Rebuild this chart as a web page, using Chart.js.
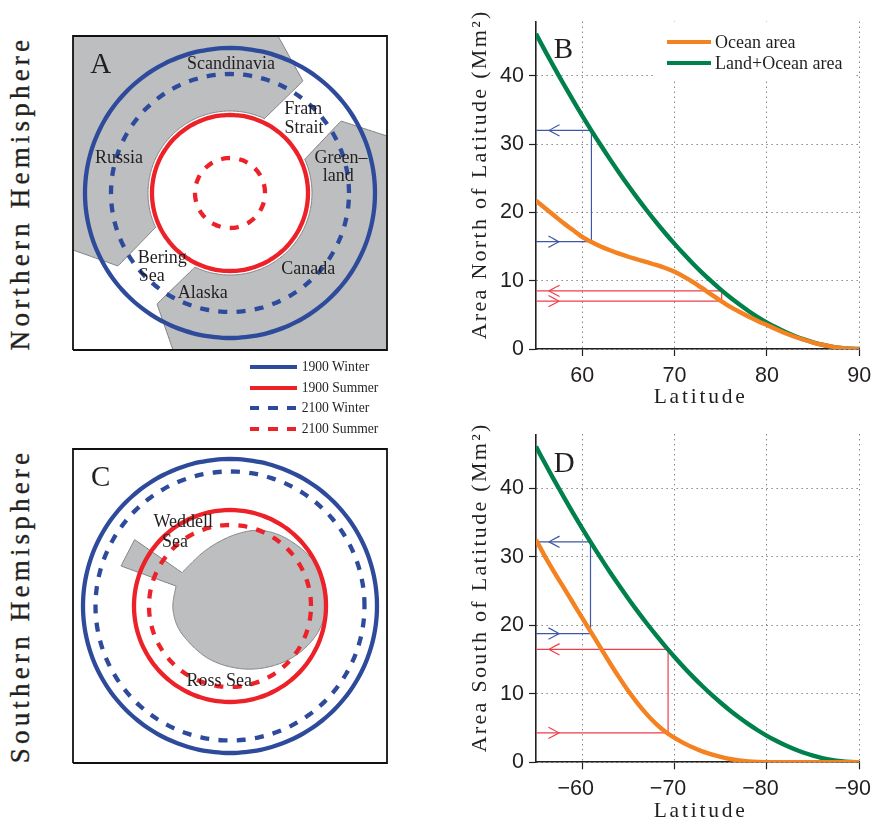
<!DOCTYPE html>
<html><head><meta charset="utf-8">
<style>
html,body{margin:0;padding:0;background:#fff;width:872px;height:818px;overflow:hidden}
canvas{position:absolute}
.t{position:absolute;transform:translate(-50%,-50%);white-space:nowrap;font-family:"Liberation Serif",serif;color:#231f20;line-height:1}
.map{font-size:18px}
.big{font-size:29px}
.hemi{font-size:27px;letter-spacing:4.2px;font-weight:normal;-webkit-text-stroke:0.35px #231f20;transform:translate(-50%,-50%) rotate(-90deg)}
.leg{font-size:13.6px;transform:translate(0,-50%)}
.sw{position:absolute;width:47px;height:4px}
#mask{position:absolute;left:655px;top:22px;width:201px;height:57px;background:#fff}
</style>
<script src="https://cdn.jsdelivr.net/npm/chart.js@4"></script>
</head><body>
<canvas id="a"></canvas><canvas id="b"></canvas><canvas id="c"></canvas><canvas id="d"></canvas>
<div id="mask"></div>
<script>
// ---- Data ----
const latitudes = [55,56,57,58,59,60,61,62,63,64,65,66,67,68,69,70,71,72,73,74,75,76,77,78,79,80,81,82,83,84,85,86,87,88,89,90];
const landOceanArea = [46.12,43.59,41.14,38.75,36.42,34.16,31.97,29.85,27.79,25.81,23.89,22.04,20.27,18.57,16.94,15.38,13.89,12.48,11.14,9.88,8.69,7.57,6.54,5.57,4.68,3.87,3.14,2.48,1.90,1.40,0.97,0.62,0.35,0.16,0.04,0];
const oceanAreaNorth = [21.7,20.6,19.5,18.4,17.4,16.4,15.65,15.0,14.45,13.95,13.5,13.1,12.7,12.3,11.85,11.3,10.6,9.8,8.9,7.95,7.05,6.2,5.45,4.75,4.1,3.5,2.9,2.3,1.8,1.35,0.95,0.62,0.35,0.16,0.04,0];
const oceanAreaSouth = [32.5,30.0,27.7,25.5,23.3,21.1,18.9,16.7,14.5,12.4,10.4,8.6,7.0,5.6,4.45,3.55,2.8,2.15,1.6,1.15,0.78,0.48,0.27,0.13,0.05,0.02,0,0,0,0,0,0,0,0,0,0];
// guide: [latitude, upper area, lower area]
const bWinterGuide = [61.0,32.0,15.7];
const bSummerGuide = [75.1,8.5,7.0];
const dWinterGuide = [60.9,32.2,18.8];
const dSummerGuide = [69.3,16.5,4.3];
const areaTicks = [0,10,20,30,40];
const northTicks = [60,70,80,90];
const southTicks = [-60,-70,-80,-90];
// map rings: radius in map units
const mapAWinter1900 = 145, mapAWinter2100 = 119, mapASummer1900 = 78, mapASummer2100 = 35, mapACoast = 82;
const mapCWinter1900 = 147, mapCWinter2100 = 134.5, mapCSummer1900 = 96, mapCSummer2100 = 81;
const mapExtent = 157;
// land outlines, map units about the pole
const eurasiaOpen = [[-157,157],[48,157],[73,112],[34,74]];
const eurasiaClose = [[-74,-34],[-112,-73],[-157,-57]];
const americaOpen = [[157,57],[111,72],[75,34]];
const americaClose = [[-36,-75],[-73,-111],[-57,-157],[157,-157]];
const antarcticaBody = [[-48,33.4],[-24,56],[4,71],[32,75.5],[60,65.5],[86.6,41],[97,6.3],[86.6,-28.5],[58.3,-53.9],[19.5,-63.2],[-19.3,-53.9],[-47.6,-28.5],[-57,-4],[-54,20]];
const weddellWedge = [[-109,40],[-95.4,66.4]];
const eurasiaArc = [65,204.8], americaArc = [24.4,-115.4];

const BLUE='#2e4a9b', RED='#ed2128', ORANGE='#f58220', GREEN='#00804a', LAND='#bcbec0', EDGE='#808285', INK='#231f20';
const DASH=[9,9.3];
const SMOOTH=0.3, STRAIGHT=0.0001;

function arc(r,a0,a1){const p=[],n=Math.ceil(Math.abs(a1-a0)/3);for(let i=0;i<=n;i++){const t=(a0+(a1-a0)*i/n)*Math.PI/180;p.push([r*Math.cos(t),r*Math.sin(t)]);}return p;}
function spline(k){const o=[];for(let i=0;i<k.length-1;i++){const p0=k[Math.max(i-1,0)],p1=k[i],p2=k[i+1],p3=k[Math.min(i+2,k.length-1)];for(let j=0;j<8;j++){const t=j/8,f=d=>0.5*(2*p1[d]+(p2[d]-p0[d])*t+(2*p0[d]-5*p1[d]+4*p2[d]-p3[d])*t*t+(3*p1[d]-p0[d]-3*p2[d]+p3[d])*t*t*t);o.push([f(0),f(1)]);}}o.push(k[k.length-1]);return o;}
const xy=p=>p.map(([x,y])=>({x,y}));
function ring(r,color,dash,w){return {data:xy(arc(r,0,360)),borderColor:color,borderWidth:w||4.3,borderDash:dash||[],showLine:true,pointRadius:0,tension:SMOOTH,fill:false};}
function land(pts){return {data:xy(pts),borderColor:EDGE,borderWidth:1,backgroundColor:LAND,showLine:true,pointRadius:0,tension:STRAIGHT,fill:'shape'};}
const frame=[[-mapExtent,-mapExtent],[mapExtent,-mapExtent],[mapExtent,mapExtent],[-mapExtent,mapExtent],[-mapExtent,-mapExtent]];
function boxDs(){return {data:xy(frame),borderColor:'#111',borderWidth:1.8,showLine:true,pointRadius:0,tension:0,fill:false,clip:false};}

function mapChart(id,left,top,datasets){
  const cv=document.getElementById(id);cv.style.left=left+'px';cv.style.top=top+'px';
  cv.width=334;cv.height=334;cv.style.width='334px';cv.style.height='334px';
  new Chart(cv,{type:'scatter',data:{datasets},options:{responsive:false,animation:false,devicePixelRatio:1,events:[],
    layout:{padding:10},
    plugins:{legend:{display:false},tooltip:{enabled:false}},
    scales:{x:{type:'linear',min:-mapExtent,max:mapExtent,display:false},y:{type:'linear',min:-mapExtent,max:mapExtent,display:false}}}});
}
mapChart('a',63,26,[
  boxDs(),
  ring(mapASummer2100,RED,DASH),ring(mapASummer1900,RED),ring(mapAWinter2100,BLUE,DASH),ring(mapAWinter1900,BLUE),
  land([...eurasiaOpen,...arc(mapACoast,eurasiaArc[0],eurasiaArc[1]),...eurasiaClose,eurasiaOpen[0]]),
  land([...americaOpen,...arc(mapACoast,americaArc[0],americaArc[1]),...americaClose,americaOpen[0]])
]);
mapChart('c',63,439,[
  boxDs(),
  ring(mapCSummer2100,RED,DASH),ring(mapCSummer1900,RED),ring(mapCWinter2100,BLUE,DASH),ring(mapCWinter1900,BLUE),
  land([...spline(antarcticaBody),...weddellWedge,antarcticaBody[0]])
]);

const HEAD_LEN=1.15, HEAD_H=0.83, TIP_L=56.4, TIP_R=57.5;
function guide(g,color,s){
  const [lat,up,lo]=g, mk=p=>({data:p.map(([x,y])=>({x:s*x,y})),borderColor:color,borderWidth:1.2,showLine:true,pointRadius:0,tension:STRAIGHT,fill:false});
  return [
    mk([[55,up],[lat,up],[lat,lo],[55,lo]]),
    mk([[TIP_L+HEAD_LEN,up+HEAD_H],[TIP_L,up],[TIP_L+HEAD_LEN,up-HEAD_H]]),
    mk([[TIP_R-HEAD_LEN,lo+HEAD_H],[TIP_R,lo],[TIP_R-HEAD_LEN,lo-HEAD_H]])
  ];
}
function curve(vals,color,s){return {data:latitudes.map((l,i)=>({x:s*l,y:vals[i]})),borderColor:color,borderWidth:4.4,showLine:true,pointRadius:0,tension:SMOOTH,fill:false,borderCapStyle:'butt',borderJoinStyle:'round'};}

function plot(id,top,h,axisY,plotTop,xMin,xMax,rev,ticks,yTitle,datasets,fmt,labelShift,xTitleDy){
  const cv=document.getElementById(id);cv.style.left='460px';cv.style.top=top+'px';
  cv.width=412;cv.height=h;cv.style.width='412px';cv.style.height=h+'px';
  const font={family:'"Liberation Sans",Arial,sans-serif',size:21.5};
  const tfont={family:'"Liberation Serif",serif',size:22};
  const grid={color:'#4d4d4f',lineWidth:1,tickColor:INK,tickLength:7,tickWidth:1.2,tickBorderDash:[]};
  const border={color:INK,width:1.6,dash:[1,4]};
  const spaced={id:'spaced',beforeDraw(ch){for(const [k,ls,dx,dy] of [['x','2.8px',3,xTitleDy],['y','2.3px',1,-11]]){const sc=ch.scales[k];if(!sc._sp){sc._sp=1;const o=sc.drawTitle;sc.drawTitle=function(){ch.ctx.save();ch.ctx.letterSpacing=ls;ch.ctx.translate(dx,dy);o.call(this);ch.ctx.restore();};}}}};
  const noPad=s=>{s.paddingLeft=s.paddingRight=s.paddingTop=s.paddingBottom=0;};
  new Chart(cv,{type:'scatter',data:{datasets},plugins:[spaced],options:{responsive:false,animation:false,devicePixelRatio:1,events:[],
    layout:{padding:{left:0,top:plotTop-top,right:12.7,bottom:0}},
    plugins:{legend:{display:false},tooltip:{enabled:false}},
    scales:{
      x:{type:'linear',min:xMin,max:xMax,reverse:rev,grid,border,
         afterBuildTicks:s=>{s.ticks=ticks.map(v=>({value:v}));},
         afterFit:s=>{s.height=top+h-axisY;noPad(s);},
         ticks:{font,color:INK,padding:7,maxRotation:0,labelOffset:labelShift,callback:fmt},
         title:{display:true,text:'Latitude',font:{...tfont,size:21.5},color:INK,padding:{top:0,bottom:0}}},
      y:{type:'linear',min:0,max:47.9,grid,border,
         afterBuildTicks:s=>{s.ticks=areaTicks.map(v=>({value:v}));},
         afterFit:s=>{s.width=76;noPad(s);},
         ticks:{font,color:INK,padding:5,callback:v=>String(v)},
         title:{display:true,text:yTitle,font:tfont,color:INK,padding:{top:6,bottom:0}}}
    }}});
}
plot('b',10,400,349,21.7,55,90,false,northTicks,'Area North of Latitude (Mm²)',[
  curve(oceanAreaNorth,ORANGE,1),curve(landOceanArea,GREEN,1),
  ...guide(bWinterGuide,'#3f57a6',1),...guide(bSummerGuide,'#ef3e4a',1)
],v=>String(v),0,0);
plot('d',424,394,762.3,434.3,-90,-55,true,southTicks,'Area South of Latitude (Mm²)',[
  curve(oceanAreaSouth,ORANGE,-1),curve(landOceanArea,GREEN,-1),
  ...guide(dWinterGuide,'#3f57a6',-1),...guide(dSummerGuide,'#ef3e4a',-1)
],v=>'\u2212'+Math.abs(v),-6.5,6.5);

// ---- Text and keys ----
function T(cls,txt,x,y){const e=document.createElement('div');e.className='t '+cls;e.textContent=txt;e.style.left=x+'px';e.style.top=y+'px';document.body.appendChild(e);return e;}
[['Scandinavia',231,63],['Fram',303.3,107.7],['Strait',304,126.7],['Green\u2013',341,156.7],['land',338.3,175],['Russia',119,157.3],['Bering',162.3,256.7],['Sea',151.7,275],['Alaska',202.7,291.7],['Canada',308.3,268.3],['Weddell',183.3,520.7],['Sea',175,541],['Ross Sea',219.3,680]].forEach(([s,x,y])=>T('map',s,x,y));
[['A',100.7,63],['C',100.7,475.7],['B',563.3,48.3],['D',564.3,461.7]].forEach(([s,x,y])=>T('big',s,x,y));
T('hemi','Northern Hemisphere',20,192.5);
T('hemi','Southern Hemisphere',20,605.5);
function sw(x,y,w,c,dashed){const e=document.createElement('div');e.className='sw';e.style.cssText=`left:${x}px;top:${y-2}px;width:${w}px;`+(dashed?`background:repeating-linear-gradient(90deg,${c} 0 9.5px,transparent 9.5px 18.5px)`:`background:${c}`);document.body.appendChild(e);}
[['1900 Winter',367.3,BLUE,0],['1900 Summer',388,RED,0],['2100 Winter',408.3,BLUE,1],['2100 Summer',428.7,RED,1]].forEach(([s,y,c,d])=>{sw(250,y,47,c,d);T('leg',s,301.7,y);});
sw(667,41.7,43.5,ORANGE,0);sw(667,63.3,43.5,GREEN,0);
const l1=T('map','Ocean area',715,41.7);l1.style.transform='translate(0,-50%)';
const l2=T('map','Land+Ocean area',715,63.3);l2.style.transform='translate(0,-50%)';
</script>
</body></html>
